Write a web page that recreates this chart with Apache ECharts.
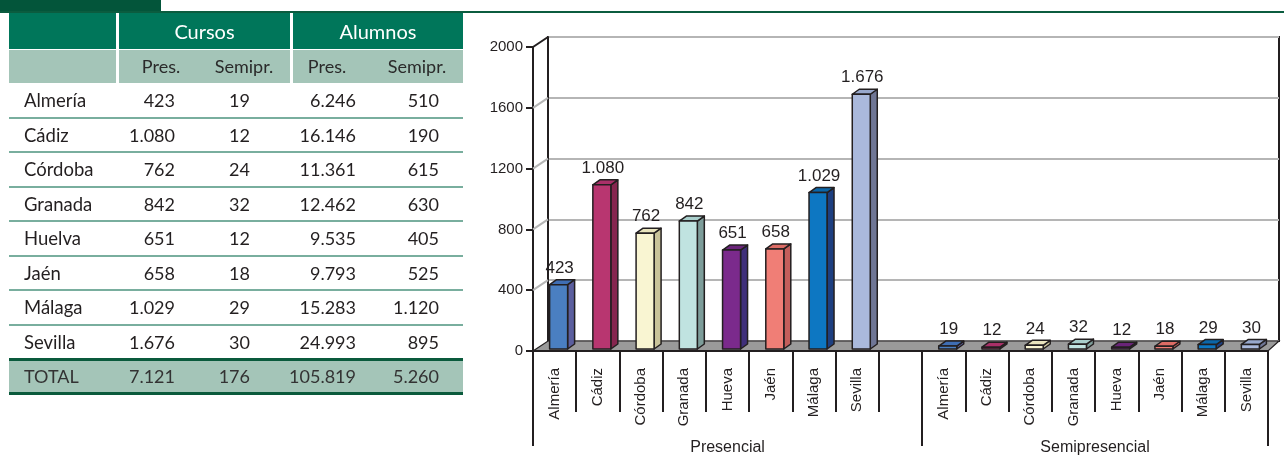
<!DOCTYPE html>
<html><head><meta charset="utf-8">
<script src="https://cdn.jsdelivr.net/npm/echarts@6/dist/echarts.min.js"></script>
<style>
html,body{margin:0;padding:0;width:1284px;height:456px;overflow:hidden;background:#fff;}
#chart{position:absolute;left:0;top:0;width:1284px;height:456px;}
#topblock{position:absolute;left:0;top:0;width:161px;height:12px;background:#03553a;}
#topline{position:absolute;left:0;top:11px;width:1284px;height:2px;background:#0b5c3f;}
#tbl{position:absolute;left:9px;top:0;width:454px;height:456px;font-family:Lato,'Open Sans',sans-serif;font-size:18px;color:#231f20;}
#tbl div{position:absolute;white-space:nowrap;}
</style></head>
<body>
<div id="chart"></div>
<div id="topblock"></div>
<div id="topline"></div>
<div id="tbl"></div>
<script>
// ---- data ----
const provinces = ['Almería','Cádiz','Córdoba','Granada','Hueva','Jaén','Málaga','Sevilla'];
const presencial = [423, 1080, 762, 842, 651, 658, 1029, 1676];
const semipresencial = [19, 12, 24, 32, 12, 18, 29, 30];
const groups = ['Presencial', 'Semipresencial'];
const yTicks = [0, 400, 800, 1200, 1600, 2000];

const tableNames = ['Almería','Cádiz','Córdoba','Granada','Huelva','Jaén','Málaga','Sevilla'];
const cursosPres = [423, 1080, 762, 842, 651, 658, 1029, 1676];
const cursosSemi = [19, 12, 24, 32, 12, 18, 29, 30];
const alumnosPres = [6246, 16146, 11361, 12462, 9535, 9793, 15283, 24993];
const alumnosSemi = [510, 190, 615, 630, 405, 525, 1120, 895];
const totalLabel = 'TOTAL';
const totals = [7121, 176, 105819, 5260];
const headGroups = ['Cursos', 'Alumnos'];
const headSub = ['Pres.', 'Semipr.', 'Pres.', 'Semipr.'];

const frontColors = ['#4a7fc1','#b83670','#f9f5d2','#c0e3e0','#7b2a8c','#f07e76','#0d77c2','#aab9dc'];
const sideColors  = ['#5b5e9e','#86264f','#c9c39a','#7d9d9a','#3f2f7a','#c35e5b','#1d3f80','#6f7695'];
const topColors   = ['#3f6eb4','#a93068','#e9e4bd','#a9cfcc','#6a2479','#dc6c65','#0b66a8','#98a8cc'];

function fmt(n){ return String(n).replace(/\B(?=(\d{3})+(?!\d))/g, '.'); }

// ---- table (HTML) ----
(function(){
  const t = document.getElementById('tbl');
  function add(css, text){
    const d = document.createElement('div');
    d.setAttribute('style', css);
    if (text !== undefined) d.textContent = text;
    t.appendChild(d);
    return d;
  }
  const dark = '#00765a', light = '#a4c5b8', line = '#79ae9e', deep = '#0a5a3c';
  // header row 1
  add(`left:0;top:13px;width:107px;height:36px;background:${dark}`);
  add(`left:110px;top:13px;width:171px;height:36px;background:${dark};color:#fff;font-size:20px;line-height:36px;text-align:center`, headGroups[0]);
  add(`left:284px;top:13px;width:170px;height:36px;background:${dark};color:#fff;font-size:20px;line-height:36px;text-align:center`, headGroups[1]);
  // header row 2
  add(`left:0;top:50px;width:107px;height:33px;background:${light}`);
  add(`left:110px;top:50px;width:171px;height:33px;background:${light}`);
  add(`left:284px;top:50px;width:170px;height:33px;background:${light}`);
  const subCenters = [152, 235, 318, 408];
  headSub.forEach((s,i)=>add(`left:${subCenters[i]-50}px;top:50px;width:100px;height:33px;line-height:33px;text-align:center;color:#2a2a2a`, s));
  // data rows
  const rights = [166, 241, 347, 430];
  const rowH = 34.5;
  for (let r = 0; r < tableNames.length; r++) {
    const top = 83 + r * rowH;
    add(`left:15px;top:${top}px;height:${rowH}px;line-height:${rowH}px;font-size:18.5px`, tableNames[r]);
    const vals = [cursosPres[r], cursosSemi[r], alumnosPres[r], alumnosSemi[r]];
    vals.forEach((v,i)=>add(`left:${rights[i]-100}px;width:100px;text-align:right;top:${top}px;height:${rowH}px;line-height:${rowH}px`, fmt(v)));
    if (r < tableNames.length - 1) add(`left:0;top:${top+rowH-1}px;width:454px;height:2px;background:${line}`);
  }
  // total row
  add(`left:0;top:359px;width:454px;height:34px;background:${light}`);
  add(`left:0;top:358px;width:454px;height:3px;background:${deep}`);
  add(`left:0;top:392px;width:454px;height:3px;background:${deep}`);
  add(`left:15px;top:360px;height:33px;line-height:33px;color:#333`, totalLabel);
  totals.forEach((v,i)=>add(`left:${rights[i]-100}px;width:100px;text-align:right;top:360px;height:33px;line-height:33px;color:#333`, fmt(v)));
})();

// ---- chart ----
const categories = provinces.concat([''], provinces);
const barData = [];
presencial.forEach((v,i)=>barData.push([i, v, i]));
semipresencial.forEach((v,i)=>barData.push([i + provinces.length + 1, v, i]));
const nSlots = categories.length;

const INK = '#231f20';
const FONT = '"Liberation Sans", Arial, sans-serif';

const chart = echarts.init(document.getElementById('chart'));
chart.setOption({
  animation: false,
  grid: [
    {left: 533, top: 47, width: 735, height: 304, outerBoundsMode: 'none'},
    {left: 548, top: 37, width: 731, height: 304, show: true, borderColor: INK, borderWidth: 2, outerBoundsMode: 'none'}
  ],
  xAxis: [
    {gridIndex: 0, type: 'category', data: categories, boundaryGap: true, z: 10,
     axisLine: {show: true, lineStyle: {color: INK, width: 2}},
     axisTick: {show: true, interval: 0, length: 61, lineStyle: {color: INK, width: 2}},
     axisLabel: {interval: 0, rotate: 90, margin: 17, fontFamily: FONT, fontSize: 15, color: INK},
     splitLine: {show: false}},
    {gridIndex: 0, type: 'value', min: 0, max: nSlots, position: 'bottom', z: 10,
     axisLine: {show: false}, splitLine: {show: false},
     axisTick: {show: true, customValues: [0, provinces.length + 1, nSlots], length: 95, lineStyle: {color: INK, width: 2}},
     axisLabel: {show: true, customValues: [(provinces.length + 1) / 2, provinces.length + 1 + provinces.length / 2],
       formatter: v => v < provinces.length + 1 ? groups[0] : groups[1],
       margin: 89, fontFamily: FONT, fontSize: 16, color: INK}},
    {gridIndex: 1, type: 'value', min: 0, max: 1, show: false}
  ],
  yAxis: [
    {gridIndex: 0, type: 'value', min: 0, max: 2000, interval: 400,
     axisLine: {show: true, lineStyle: {color: INK, width: 2}},
     axisTick: {show: true, length: 7, lineStyle: {color: INK, width: 2}},
     axisLabel: {margin: 10, fontFamily: FONT, fontSize: 15, color: INK, formatter: v => String(v)},
     splitLine: {show: false}},
    {gridIndex: 1, type: 'value', min: 0, max: 2000, interval: 400,
     axisLine: {show: true, lineStyle: {color: INK, width: 2}},
     axisTick: {show: false}, axisLabel: {show: false},
     splitLine: {show: true, lineStyle: {color: '#b5b5b5', width: 2}}}
  ],
  series: [
    {
      type: 'custom', xAxisIndex: 1, yAxisIndex: 0, z: 1, silent: true,
      data: yTicks.map(v => [0, v]),
      encode: {x: 0, y: 1},
      renderItem: function(params, api){
        const v = api.value(1);
        const p = api.coord([0, v]);
        const children = [];
        if (v === 0) {
          const q = api.coord([nSlots, 0]);
          children.push({type: 'polygon', shape: {points: [[p[0], p[1]], [p[0]+15, p[1]-10], [q[0]+11, q[1]-10], [q[0], q[1]]]},
            style: {fill: '#9a9a9a', stroke: INK, lineWidth: 1.2}});
        } else {
          children.push({type: 'line', shape: {x1: p[0], y1: p[1], x2: p[0]+15, y2: p[1]-10},
            style: {stroke: v === yTicks[yTicks.length-1] ? INK : '#b5b5b5', lineWidth: 2}});
        }
        return {type: 'group', children: children};
      }
    },
    {
      type: 'custom', xAxisIndex: 0, yAxisIndex: 0, z: 3, silent: true,
      data: barData,
      encode: {x: 0, y: 1},
      renderItem: function(params, api){
        const i = api.value(0), v = api.value(1), c = api.value(2);
        const base = api.coord([i, 0]);
        const top = api.coord([i, v]);
        const bw = 18, dx = 7, dy = -5;
        const x0 = base[0] + 4 - bw / 2, x1 = x0 + bw;
        const yb = base[1] - 2, yt = top[1] - 2;
        const st = {stroke: INK, lineWidth: 1.5, lineJoin: 'round'};
        return {type: 'group', children: [
          {type: 'polygon', shape: {points: [[x1, yb], [x1, yt], [x1+dx, yt+dy], [x1+dx, yb+dy]]},
           style: Object.assign({fill: sideColors[c]}, st)},
          {type: 'polygon', shape: {points: [[x0, yt], [x1, yt], [x1+dx, yt+dy], [x0+dx, yt+dy]]},
           style: Object.assign({fill: topColors[c]}, st)},
          {type: 'rect', shape: {x: x0, y: yt, width: bw, height: Math.max(yb - yt, 0.5)},
           style: Object.assign({fill: frontColors[c]}, st)},
          {type: 'text', x: x0 + bw / 2 + 1, y: yt - 8,
           style: {text: fmt(v), fill: INK, font: '17px "Liberation Sans", Arial, sans-serif', align: 'center', verticalAlign: 'bottom'}}
        ]};
      }
    }
  ]
});
</script>
</body></html>
